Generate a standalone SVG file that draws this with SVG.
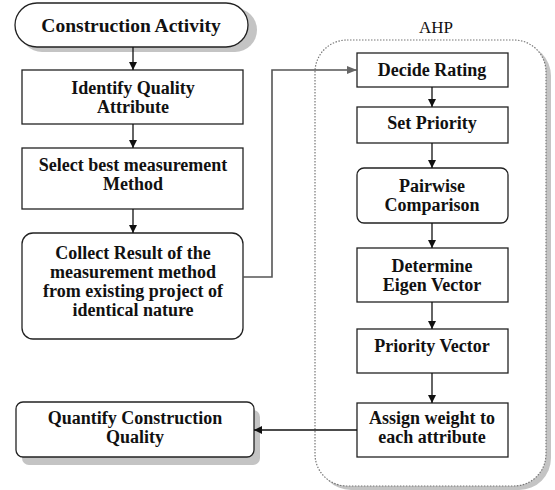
<svg xmlns="http://www.w3.org/2000/svg" width="555" height="490" viewBox="0 0 555 490">
<style>
.box{fill:#fff;stroke:#222;stroke-width:1.3}
.sh{fill:#c4c4c4}
.t{font-family:"Liberation Serif","Times New Roman",serif;font-weight:bold;font-size:18px;fill:#111;text-anchor:middle}
.big{font-size:19.5px}
.lbl{font-family:"Liberation Serif","Times New Roman",serif;font-size:17px;fill:#111;text-anchor:middle}
.c{fill:none;stroke:#111;stroke-width:1.3}
.g{fill:none;stroke:#555;stroke-width:1.6}
</style>
<defs>
<marker id="ah" markerWidth="8" markerHeight="8" refX="8" refY="4" orient="auto" markerUnits="userSpaceOnUse">
<path d="M0,0 L8,4 L0,8 z" fill="#111"/>
</marker>
<marker id="ahg" markerWidth="10" markerHeight="8" refX="10" refY="4" orient="auto" markerUnits="userSpaceOnUse">
<path d="M0,0 L10,4 L0,8 z" fill="#666"/>
</marker>
</defs>

<g id="ahp-container">
<rect x="319" y="44" width="232" height="446" rx="32" class="sh"/>
<rect x="315" y="40" width="231" height="446" rx="32" fill="#fff" stroke="#777" stroke-width="1.2" stroke-dasharray="1.5,1.5"/>
<text x="436" y="33" class="lbl">AHP</text>
</g>

<g id="construction-activity">
<rect x="20" y="8" width="237" height="44" rx="22" class="sh"/>
<rect x="15" y="3" width="233" height="44" rx="22" class="box"/>
<text x="131" y="32" class="t big">Construction Activity</text>
</g>

<g id="identify">
<rect x="22" y="70" width="221" height="54" class="box"/>
<text x="133" y="94" class="t">Identify Quality</text>
<text x="133" y="113" class="t">Attribute</text>
</g>

<g id="select">
<rect x="22" y="148" width="221" height="61" class="box"/>
<text x="133" y="171" class="t">Select best measurement</text>
<text x="133" y="190" class="t">Method</text>
</g>

<g id="collect">
<rect x="22" y="233" width="221" height="106" rx="11" class="box"/>
<text x="133" y="259" class="t">Collect Result of the</text>
<text x="133" y="278" class="t">measurement method</text>
<text x="133" y="297" class="t">from existing project of</text>
<text x="133" y="316" class="t">identical nature</text>
</g>

<g id="quantify">
<rect x="22" y="410" width="238" height="55" rx="7" class="sh"/>
<rect x="16" y="402" width="238" height="55" rx="7" class="box"/>
<text x="135" y="424" class="t">Quantify Construction</text>
<text x="135" y="443" class="t">Quality</text>
</g>

<g id="decide">
<rect x="357" y="53" width="151" height="34" class="box"/>
<text x="432" y="76" class="t">Decide Rating</text>
</g>

<g id="set-priority">
<rect x="357" y="107" width="151" height="36" class="box"/>
<text x="432" y="129" class="t">Set Priority</text>
</g>

<g id="pairwise">
<rect x="357" y="168" width="151" height="55" rx="7" class="box"/>
<text x="432" y="192" class="t">Pairwise</text>
<text x="432" y="211" class="t">Comparison</text>
</g>

<g id="eigen">
<rect x="357" y="248" width="151" height="54" class="box"/>
<text x="432" y="272" class="t">Determine</text>
<text x="432" y="291" class="t">Eigen Vector</text>
</g>

<g id="priority-vector">
<rect x="357" y="329" width="151" height="44" class="box"/>
<text x="432" y="352" class="t">Priority Vector</text>
</g>

<g id="assign">
<rect x="357" y="403" width="151" height="54" class="box"/>
<text x="432" y="424" class="t">Assign weight to</text>
<text x="432" y="443" class="t">each attribute</text>
</g>

<g id="connectors">
<line x1="133" y1="47" x2="133" y2="70" class="c" marker-end="url(#ah)"/>
<line x1="133" y1="124" x2="133" y2="148" class="c" marker-end="url(#ah)"/>
<line x1="133" y1="209" x2="133" y2="233" class="c" marker-end="url(#ah)"/>
<polyline points="243,277 272,277 272,70 357,70" class="g" marker-end="url(#ahg)"/>
<line x1="432" y1="87" x2="432" y2="107" class="c" marker-end="url(#ah)"/>
<line x1="432" y1="143" x2="432" y2="168" class="c" marker-end="url(#ah)"/>
<line x1="432" y1="223" x2="432" y2="248" class="c" marker-end="url(#ah)"/>
<line x1="432" y1="302" x2="432" y2="329" class="c" marker-end="url(#ah)"/>
<line x1="432" y1="373" x2="432" y2="403" class="c" marker-end="url(#ah)"/>
<line x1="357" y1="430" x2="254" y2="430" class="c" marker-end="url(#ah)"/>
</g>
</svg>
